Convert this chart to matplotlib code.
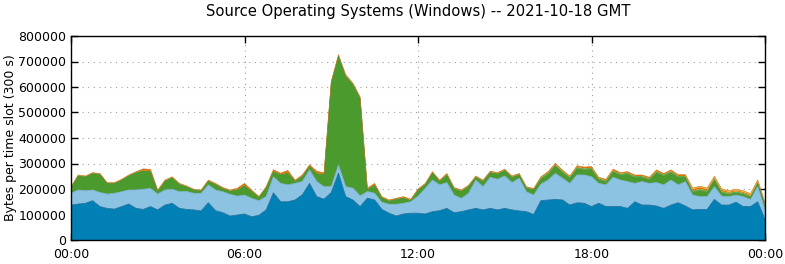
import matplotlib
matplotlib.use("Agg")
import matplotlib.pyplot as plt
import numpy as np

# time of day in hours (15-minute samples)
hours = [i * 0.25 for i in range(97)]

# layer values in thousands of bytes per 300 s slot
dark_blue = [137,141,144,154,131,124,121,131,141,124,120,131,118,137,144,124,120,118,114,146,
             115,107,94,98,102,91,97,118,185,150,150,157,177,222,170,160,186,262,170,157,
             131,164,157,120,105,94,102,105,105,102,111,115,124,107,111,118,124,118,124,118,
             124,118,114,111,100,154,157,159,157,137,146,144,131,144,131,131,131,124,150,137,
             137,133,124,137,146,133,118,120,120,159,137,137,148,131,131,150,80]
light_blue = [46,55,49,42,55,56,62,58,55,72,79,71,62,59,55,65,70,65,69,70,
              81,82,85,74,74,72,57,52,63,72,66,65,52,53,59,49,23,32,39,46,
              42,26,26,28,35,46,42,45,67,100,124,101,101,69,52,65,111,91,122,120,
              127,107,128,78,76,65,78,102,85,85,109,111,117,78,85,115,104,105,72,92,
              85,92,92,98,70,96,58,50,50,50,35,33,28,39,28,60,40]
green = [22,55,54,64,71,41,38,45,55,67,72,65,10,34,44,28,18,12,9,14,
         21,12,12,24,36,27,12,34,20,33,46,7,20,13,31,46,406,426,432,405,
         381,7,31,17,12,19,20,4,23,14,27,13,29,24,27,26,10,20,18,20,
         21,20,13,14,20,18,21,27,20,18,23,18,27,12,10,19,17,27,21,14,
         12,37,33,27,27,14,10,22,16,25,11,7,7,7,7,11,15]
light_green = [2]*49 + [3]*16 + [8]*32
orange = [2,2,2,2,2,2,2,2,2,3,6,8,4,3,3,3,2,2,2,3,
          3,3,3,5,8,4,3,3,6,5,9,4,4,5,8,6,5,5,5,5,
          5,4,6,3,3,3,4,4,3,3,3,3,4,3,3,3,3,3,3,3,
          3,3,3,3,3,3,4,5,4,3,5,5,5,4,4,5,4,4,4,4,
          4,5,4,5,5,5,6,7,6,4,6,4,4,4,4,4,4]
yellow = [0]*86 + [4]*9 + [3, 0]

tick_pos = [0, 6, 12, 18, 24]
tick_labels = ["00:00", "06:00", "12:00", "18:00", "00:00"]
y_ticks = [0, 100000, 200000, 300000, 400000, 500000, 600000, 700000, 800000]

layers = [dark_blue, light_blue, green, light_green, orange, yellow]
fills = ["#0080b4", "#8cc3e3", "#4b9a2d", "#66aa44", "#e07000", "#f0b020"]
edges = ["#1c6d9c", "#7fb0d0", "#43892a", None, None, "#c87a20"]
widths = [0.6, 0.6, 0.5, 0, 0, 0.4]

x = np.array(hours)
vals = [np.array(l, dtype=float) * 1000 for l in layers]

fig = plt.figure(figsize=(7.85, 2.64), dpi=100)
ax = fig.add_axes([71/785, 1 - 240/264, (765-71)/785, (240-36)/264])

base = np.zeros_like(x)
for v, fc, ec, lw in zip(vals, fills, edges, widths):
    top = base + v
    ax.fill_between(x, base, top, facecolor=fc, edgecolor="none", linewidth=0, zorder=2)
    if ec is not None:
        ax.plot(x, top, color=ec, linewidth=lw, zorder=3)
    base = top

ax.set_xlim(0, 24)
ax.set_ylim(0, 800000)
ax.set_xticks(tick_pos)
ax.set_xticklabels(tick_labels)
ax.set_yticks(y_ticks)
ax.set_yticklabels([str(t) for t in y_ticks])
ax.tick_params(direction="in", length=5, width=1, top=True, right=True, labelsize=9, colors="black")
ax.tick_params(axis="x", pad=6)
ax.grid(True, linestyle=(0, (1, 4)), color="#a0a0a0", linewidth=0.8, zorder=1)
for s in ax.spines.values():
    s.set_linewidth(1)
    s.set_zorder(5)
ax.set_ylabel("Bytes per time slot (300 s)", fontsize=9, labelpad=1)
fig.text(418/785, 0.985, "Source Operating Systems (Windows) -- 2021-10-18 GMT",
         fontsize=10.6, ha="center", va="top")

fig.savefig("out.png", dpi=100)
